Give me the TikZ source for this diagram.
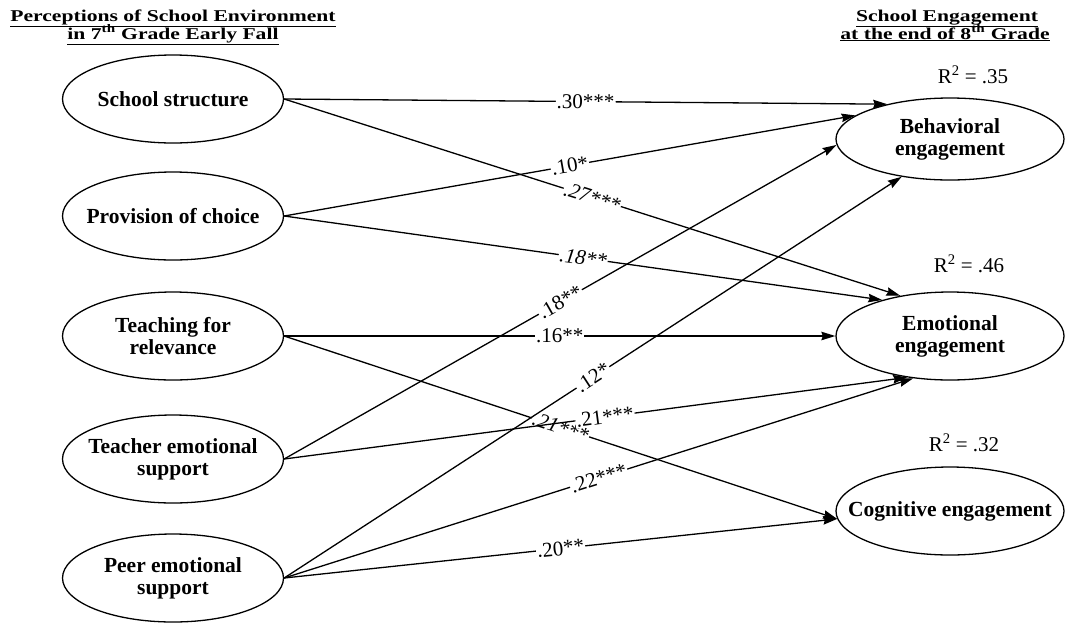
\documentclass[tikz,border=0pt]{standalone}
\usepackage{fontspec}
\setmainfont{Liberation Serif}
\usepackage{graphicx}
\usetikzlibrary{shapes.geometric,arrows.meta}
\begin{document}
\begin{tikzpicture}[x=1pt,y=-1pt,
  latent/.style={ellipse,draw,line width=1.3pt,inner sep=-60pt,align=center,
    font=\fontsize{21.5}{22}\selectfont\bfseries,minimum width=221pt,minimum height=88pt},
  arr/.style={line width=1.3pt,-{Stealth[length=14pt,width=8.5pt,inset=1.5pt]}},
  coef/.style={fill=white,inner sep=1pt,sloped,midway,font=\fontsize{21}{22}\selectfont},
  hdr/.style={font=\fontsize{16.5}{18}\selectfont\bfseries,anchor=base,inner sep=0pt},
  rsq/.style={font=\fontsize{21}{22}\selectfont,anchor=base,inner sep=0pt}
]
\useasboundingbox (0,0) rectangle (1065,625);

% headers
\node[hdr] (tl1) at (173,21) {\scalebox{1.31}[1]{\underline{Perceptions of School Environment}}};
\node[hdr] (tl2) at (173,39) {\scalebox{1.31}[1]{\underline{in 7\textsuperscript{th} Grade Early Fall}}};
\node[hdr] (tr1) at (947,21) {\scalebox{1.31}[1]{\underline{School Engagement}}};
\node[hdr] (tr2) at (945,39) {\scalebox{1.31}[1]{\underline{at the end of 8\textsuperscript{th} Grade}}};

% predictors
\node[latent] (ss) at (173,99) {School structure};
\node[latent] (pc) at (173,216) {Provision of choice};
\node[latent] (tr) at (173,336) {Teaching for\\relevance};
\node[latent] (te) at (173,459) {Teacher emotional\\support};
\node[latent] (pe) at (173,578) {Peer emotional\\support};

% outcomes
\node[latent,minimum width=228pt,minimum height=82pt] (beh) at (950,139) {Behavioral\\engagement};
\node[latent,minimum width=228pt,minimum height=88pt] (emo) at (950,336) {Emotional\\engagement};
\node[latent,minimum width=228pt,minimum height=88pt] (cog) at (950,511) {Cognitive engagement};

% R squared
\node[rsq] (r1) at (973,83) {R\textsuperscript{2} = .35};
\node[rsq] (r2) at (969,272) {R\textsuperscript{2} = .46};
\node[rsq] (r3) at (964,451) {R\textsuperscript{2} = .32};

% paths
\draw[arr] (ss.east) -- (beh.151.6) node[coef] {.30***};
\draw[arr] (ss.east) -- (emo.141) node[coef] {\itshape .27***};
\draw[arr] (pc.east) -- (beh.166.7) node[coef] {.10*};
\draw[arr] (pc.east) -- (emo.152.5) node[coef] {\itshape .18**};
\draw[arr] (tr.east) -- (emo.west) node[coef] {.16**};
\draw[arr] (tr.east) -- (cog.184) node[coef] {\itshape .21***};
\draw[arr] (te.east) -- (beh.183) node[coef] {.18**};
\draw[arr] (te.east) -- (emo.224) node[coef,pos=0.515] {.21***};
\draw[arr] (pe.east) -- (beh.218) node[coef] {.12*};
\draw[arr] (pe.east) -- (emo.229) node[coef] {.22***};
\draw[arr] (pe.east) -- (cog.184) node[coef] {.20**};
\end{tikzpicture}
\end{document}
